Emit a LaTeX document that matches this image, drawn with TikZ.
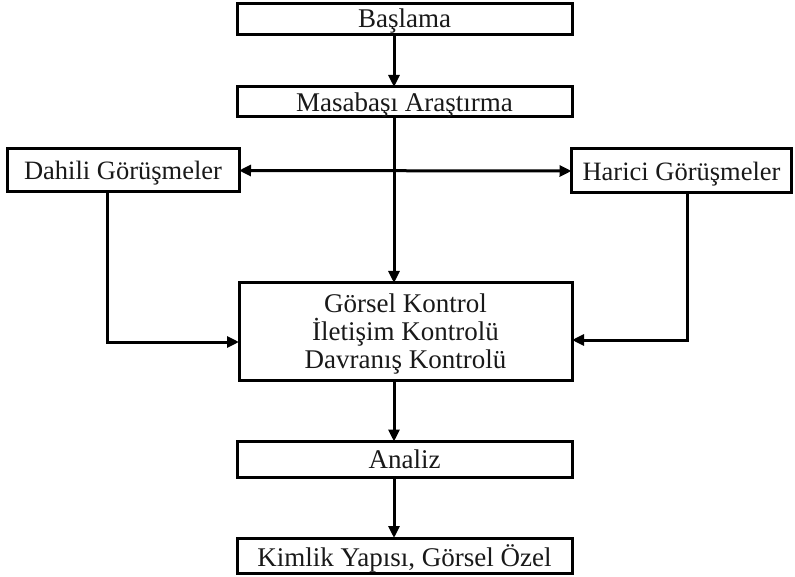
\documentclass[tikz,border=0pt]{standalone}
\usepackage{fontspec}
\setmainfont{Liberation Serif}
\usetikzlibrary{arrows.meta}

\tikzset{
  box/.style={draw=black, line width=3pt, fill=white, inner sep=0pt, outer sep=0pt,
    align=center, text depth=0pt, font=\fontsize{27}{28}\selectfont, text=black!90},
  arr/.style={line width=3pt, -{Triangle[length=12pt,width=11pt]}},
}

\begin{document}
\begin{tikzpicture}[x=1pt, y=-1pt]
  % page area
  \path[fill=white, use as bounding box] (0,0) rectangle (795,577);

  % main column of steps
  \node[box, minimum width=335pt, minimum height=31pt, text height=16pt] (start) at (404.5,19.5) {Başlama};
  \node[box, minimum width=335pt, minimum height=30pt] (desk) at (404.5,102) {Masabaşı Araştırma};
  \node[box, minimum width=232pt, minimum height=43pt, font=\fontsize{26.5}{28}\selectfont] (inner) at (123,170.5) {Dahili Görüşmeler};
  \node[box, minimum width=220pt, minimum height=44pt, font=\fontsize{26.5}{28}\selectfont] (outer) at (681.5,171) {Harici Görüşmeler};
  \node[box, minimum width=333pt, minimum height=97pt] (control) at (405.5,331.5)
    {Görsel Kontrol\\İletişim Kontrolü\\Davranış Kontrolü};
  \node[box, minimum width=335pt, minimum height=36pt] (analysis) at (404.5,459.5) {Analiz};
  \node[box, minimum width=335pt, minimum height=35pt] (result) at (404.5,555.5) {Kimlik Yapısı, Görsel Özel};

  % guide coordinates for the connectors
  \coordinate (axis) at (394,0);
  \coordinate (leftdrop) at (107,342);
  \coordinate (rightdrop) at (687,340);

  % vertical flow
  \draw[arr] (start.south -| axis) -- (desk.north -| axis);
  \draw[arr] (desk.south -| axis) -- (control.north -| axis);
  \draw[arr] (control.south -| axis) -- (analysis.north -| axis);
  \draw[arr] (analysis.south -| axis) -- (result.north -| axis);

  % two-way link between the interview boxes
  \draw[line width=3pt, {Triangle[length=12pt,width=11pt]}-{Triangle[length=12pt,width=11pt]}]
    (inner.east) -- (outer.west);

  % interviews feeding the control box
  \draw[arr] (inner.south -| leftdrop) -- (leftdrop) -- (control.west |- leftdrop);
  \draw[arr] (outer.south -| rightdrop) -- (rightdrop) -- (control.east |- rightdrop);
\end{tikzpicture}
\end{document}
